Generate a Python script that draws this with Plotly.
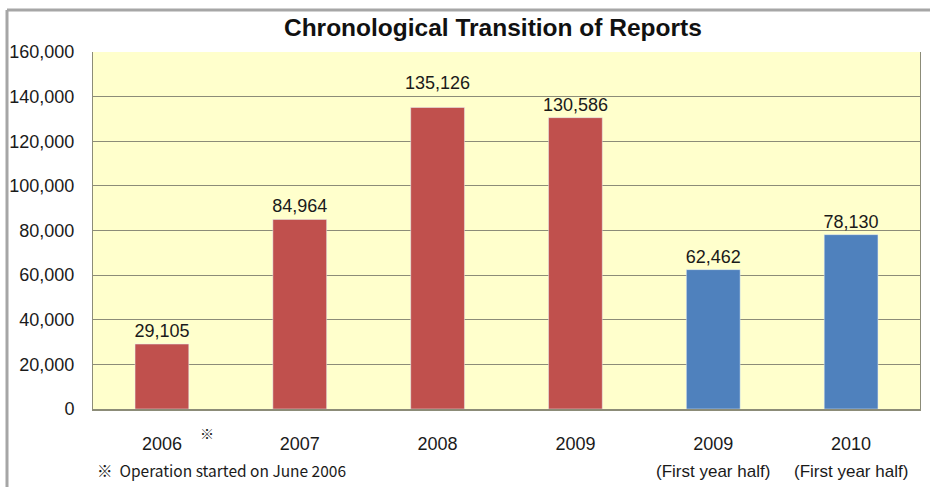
import plotly.graph_objects as go

# ---- data ----
categories = ["2006", "2007", "2008", "2009", "2009 (H1)", "2010 (H1)"]
tick_labels = ["2006", "2007", "2008", "2009", "2009", "2010"]
sub_labels = ["", "", "", "", "(First year half)", "(First year half)"]
full_year_idx = [0, 1, 2, 3]
full_year_values = [29105, 84964, 135126, 130586]
half_year_idx = [4, 5]
half_year_values = [62462, 78130]
y_ticks = [0, 20000, 40000, 60000, 80000, 100000, 120000, 140000, 160000]
raised_label_idx = 2  # the 2008 label sits higher above its bar in the reference

FONT = "Liberation Sans, Arial, sans-serif"
RED = "#C0504D"
BLUE = "#4F81BD"
TXT = "#1a1a1a"

full_text = [("" if i == raised_label_idx else f"{v:,}")
             for i, v in zip(full_year_idx, full_year_values)]

fig = go.Figure()
fig.add_trace(go.Bar(
    x=full_year_idx, y=full_year_values, marker_color=RED, width=0.39,
    text=full_text, textposition="outside", constraintext="none",
    textfont=dict(family=FONT, size=18, color=TXT), cliponaxis=False,
    showlegend=False))
fig.add_trace(go.Bar(
    x=half_year_idx, y=half_year_values, marker_color=BLUE, width=0.39,
    text=[f"{v:,}" for v in half_year_values], textposition="outside",
    constraintext="none",
    textfont=dict(family=FONT, size=18, color=TXT), cliponaxis=False,
    showlegend=False))

# raised data label
ri = full_year_idx.index(raised_label_idx)
fig.add_annotation(x=raised_label_idx, y=full_year_values[ri], xref="x", yref="y",
                   yanchor="middle", yshift=25, text=f"{full_year_values[ri]:,}",
                   showarrow=False, font=dict(family=FONT, size=18, color=TXT))

# second line of category labels
for i, s in enumerate(sub_labels):
    if s:
        fig.add_annotation(x=i, y=0, xref="x", yref="paper", yanchor="middle",
                           yshift=-62, text=s, showarrow=False,
                           font=dict(family=FONT, size=17, color=TXT))

# footnote markers
fig.add_annotation(x=0.325, y=0, xref="x", yref="paper", yanchor="middle",
                   yshift=-24, text="※", showarrow=False,
                   font=dict(family="Noto Sans CJK JP", size=14, color=TXT))
fig.add_annotation(x=-0.5, y=0, xref="x", yref="paper", yanchor="middle",
                   yshift=-61, xanchor="left", xshift=2,
                   text="※  Operation started on June 2006", showarrow=False,
                   font=dict(family="Noto Sans CJK JP", size=15.5, color=TXT))

fig.update_layout(
    width=930, height=487,
    margin=dict(l=93, r=10, t=52, b=78),
    paper_bgcolor="white",
    plot_bgcolor="#FFFFCC",
    title=dict(text="<b>Chronological Transition of Reports</b>", x=0.53, xanchor="center",
               y=1 - 27/487, yanchor="middle",
               font=dict(family=FONT, size=24.5, color="#111111")),
    xaxis=dict(
        tickmode="array", tickvals=list(range(len(categories))), ticktext=tick_labels,
        range=[-0.5, 5.5], showgrid=False, zeroline=False, automargin=False,
        showline=True, linecolor="#8C8C78", linewidth=1.5,
        tickfont=dict(family=FONT, size=18, color=TXT),
        ticks="", ticklabelstandoff=18),
    yaxis=dict(
        range=[0, 160000], tickvals=y_ticks, tickformat=",", automargin=False,
        showgrid=True, gridcolor="#8C8C78", gridwidth=1.2, zeroline=False,
        showline=True, linecolor="#8C8C78", mirror=True,
        tickfont=dict(family=FONT, size=18, color=TXT),
        ticks="", ticklabelstandoff=14),
    shapes=[
        dict(type="line", xref="paper", yref="paper",
             x0=(7 - 93) / 827, x1=(7 - 93) / 827, y0=-0.3, y1=(409 - 10) / 357,
             line=dict(color="#A6A6A6", width=3)),
        dict(type="line", xref="paper", yref="paper",
             x0=(7 - 93) / 827, x1=(935 - 93) / 827, y0=(409 - 10) / 357, y1=(409 - 10) / 357,
             line=dict(color="#A6A6A6", width=3)),
    ],
)

fig.write_html("out.html", config={"displayModeBar": False},
               post_script="document.body.style.margin='0';document.body.style.overflow='hidden';")
